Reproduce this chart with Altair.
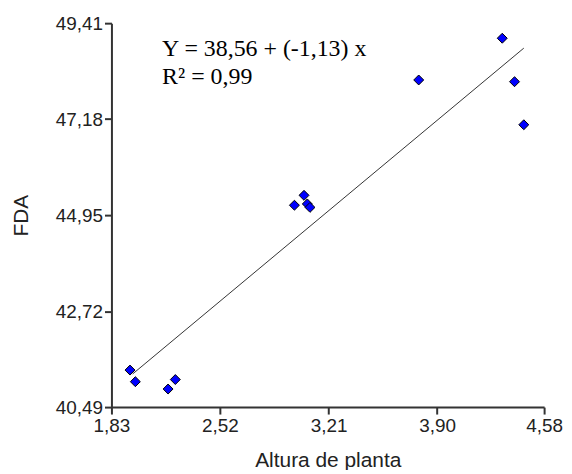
import altair as alt
import pandas as pd

# Data
altura = [1.948, 1.982, 2.190, 2.236, 2.993, 3.054, 3.075, 3.092, 3.783, 4.314, 4.392, 4.451]
fda = [41.35, 41.08, 40.91, 41.13, 45.18, 45.41, 45.21, 45.13, 48.09, 49.06, 48.05, 47.05]

fit_x = [1.965, 4.451]
fit_y = [41.26, 48.83]

x_ticks = [1.83, 2.52, 3.21, 3.90, 4.58]
y_ticks = [40.49, 42.72, 44.95, 47.18, 49.41]

eq_lines = ["Y = 38,56 + (-1,13) x", "R\u00b2 = 0,99"]
eq_x = [2.152, 2.152]
eq_y = [48.648, 47.995]

pts = pd.DataFrame({"x": altura, "y": fda})
fit = pd.DataFrame({"x": fit_x, "y": fit_y})
eq = pd.DataFrame({"x": eq_x, "y": eq_y, "t": eq_lines})

label_expr = "replace(format(datum.value, '.2f'), '.', ',')"

xscale = alt.Scale(domain=[1.83, 4.58], zero=False, nice=False)
yscale = alt.Scale(domain=[40.49, 49.41], zero=False, nice=False)

xaxis = alt.Axis(
    title="Altura de planta", values=x_ticks, labelExpr=label_expr, grid=False,
    tickSize=7, labelPadding=3, labelFont="Liberation Sans", labelFontSize=19,
    labelColor="#222222", titleFont="Liberation Sans", titleFontSize=21,
    titleFontWeight="normal", titleColor="#222222", titleBaseline="alphabetic",
    titleY=60, domainColor="#333333", tickColor="#333333", domainWidth=2, tickWidth=2,
    labelFlush=False,
)
yaxis = alt.Axis(
    title="FDA", values=y_ticks, labelExpr=label_expr, grid=False,
    tickSize=7, labelPadding=2, labelFont="Liberation Sans", labelFontSize=19,
    labelColor="#222222", titleFont="Liberation Sans", titleFontSize=21,
    titleFontWeight="normal", titleColor="#222222", titleX=-90, titleY=193,
    titleAlign="center", titleBaseline="middle", domainColor="#333333",
    tickColor="#333333", domainWidth=2, tickWidth=2, labelFlush=False,
)

line = alt.Chart(fit).mark_line(color="#333333", strokeWidth=1).encode(
    x=alt.X("x:Q", scale=xscale, axis=xaxis),
    y=alt.Y("y:Q", scale=yscale, axis=yaxis),
)

points = alt.Chart(pts).mark_point(
    shape="diamond", filled=True, fill="#0000ff", stroke="#000000",
    strokeWidth=1, size=100, opacity=1,
).encode(x="x:Q", y="y:Q")

text = alt.Chart(eq).mark_text(
    align="left", baseline="alphabetic", font="Liberation Serif",
    fontSize=24, color="#000000",
).encode(x="x:Q", y="y:Q", text="t:N")

chart = alt.layer(line, points, text).properties(
    width=435, height=386,
    autosize=alt.AutoSizeParams(type="none"),
    padding={"left": 104, "top": 14, "right": 20, "bottom": 62},
).configure_view(stroke=None)

chart.save("out.html", embed_options={"renderer": "svg", "actions": False})
